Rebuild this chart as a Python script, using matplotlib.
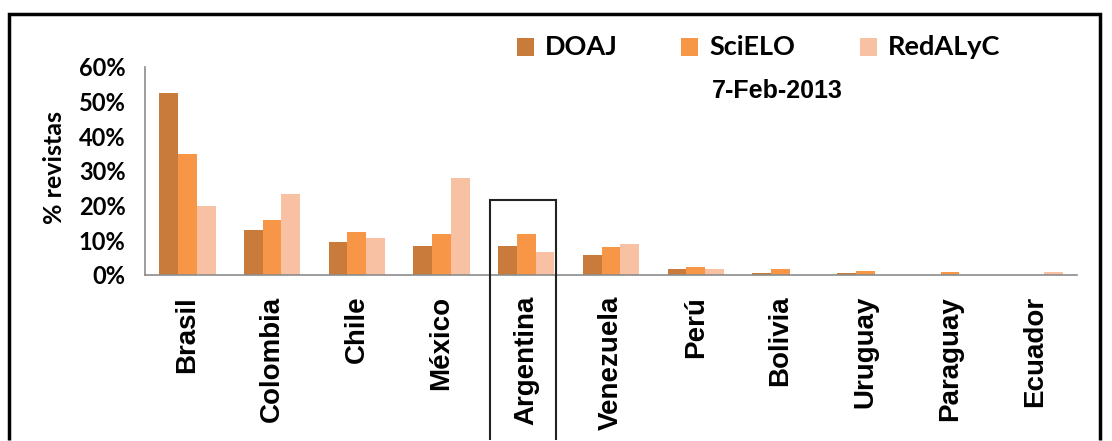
import matplotlib
matplotlib.use("Agg")
import matplotlib.pyplot as plt
import matplotlib.transforms as mtransforms
import numpy as np
from matplotlib.patches import Rectangle
from matplotlib.lines import Line2D

countries = ["Brasil", "Colombia", "Chile", "México", "Argentina", "Venezuela",
             "Perú", "Bolivia", "Uruguay", "Paraguay", "Ecuador"]
doaj = [52.4, 13.0, 9.5, 8.5, 8.5, 5.8, 1.7, 0.7, 0.7, 0.0, 0.0]
scielo = [34.8, 15.9, 12.5, 11.8, 11.8, 8.0, 2.3, 1.7, 1.2, 0.8, 0.0]
redalyc = [20.0, 23.3, 10.8, 27.9, 6.7, 9.0, 1.7, 0.0, 0.0, 0.0, 0.8]
series_names = ["DOAJ", "SciELO", "RedALyC"]
yticks = [0, 10, 20, 30, 40, 50, 60]
date_label = "7-Feb-2013"
highlight = "Argentina"

colors = ["#C97B3B", "#F79646", "#F9C1A3"]

W, H = 1112, 441
fig = plt.figure(figsize=(W / 100, H / 100), dpi=100)
fig.patch.set_facecolor("white")
fig.patch.set_edgecolor("white")
fig.patch.set_linewidth(0)

def fx(px):
    return px / W

def fy(py):
    return 1 - py / H

ax = fig.add_axes([fx(145), fy(275), fx(1077) - fx(145), fy(67) - fy(275)])
x = np.arange(len(countries))
bw = 0.222
for k, (vals, c) in enumerate(zip([doaj, scielo, redalyc], colors)):
    ax.bar(x + (k - 1) * bw, vals, width=bw, color=c, edgecolor="none", zorder=2)

ax.set_xlim(-0.5, len(countries) - 0.5)
ax.set_ylim(0, 60)
ax.set_yticks(yticks)
ax.set_yticklabels([f"{v}%" for v in yticks], fontfamily="Lato", fontweight="bold", fontsize=17)
ax.set_xticks(x)
ax.set_xticklabels(countries, rotation=90, fontfamily="Liberation Sans",
                   fontweight="bold", fontsize=20)
ax.tick_params(axis="y", length=0, pad=14)
ax.tick_params(axis="x", length=0, pad=15)
for s in ["top", "right"]:
    ax.spines[s].set_visible(False)
for s in ["left", "bottom"]:
    ax.spines[s].set_color("#8c8c8c")
    ax.spines[s].set_linewidth(1.2)
ax.set_facecolor("white")

fig.text(fx(54), fy(168), "% revistas", rotation=90, ha="center", va="center",
         fontfamily="Lato", fontweight="bold", fontsize=18)

# legend (manual)
leg_sq = [517, 681, 860]
for sx, name, c in zip(leg_sq, series_names, colors):
    fig.add_artist(Rectangle((fx(sx), fy(56)), fx(17), fy(38) - fy(56),
                             transform=fig.transFigure, facecolor=c, edgecolor="none"))
    fig.text(fx(sx + 28), fy(47), name, ha="left", va="center",
             fontfamily="Lato", fontweight="bold", fontsize=19.5)

fig.text(fx(712), fy(91), date_label, ha="left", va="center",
         fontfamily="Liberation Sans", fontweight="bold", fontsize=18)

# highlight box around Argentina (open at the bottom)
hi = countries.index(highlight)
x0, x1 = hi - 0.43, hi + 0.35
ytop = fy(200)
ybot = fy(440)
blend = mtransforms.blended_transform_factory(ax.transData, fig.transFigure)
fig.add_artist(Line2D([x0, x0, x1, x1], [ybot, ytop, ytop, ybot], transform=blend,
                      color="#222222", linewidth=1.5,
                      solid_capstyle="butt", solid_joinstyle="miter"))

# outer frame (left, top, right edges)
fig.add_artist(Line2D([fx(9), fx(9), fx(1100), fx(1100)], [ybot, fy(14), fy(14), ybot],
                      transform=fig.transFigure, color="black", linewidth=2.5,
                      solid_capstyle="butt", solid_joinstyle="miter"))

fig.savefig("out.png", dpi=100, facecolor="white", edgecolor="white")
